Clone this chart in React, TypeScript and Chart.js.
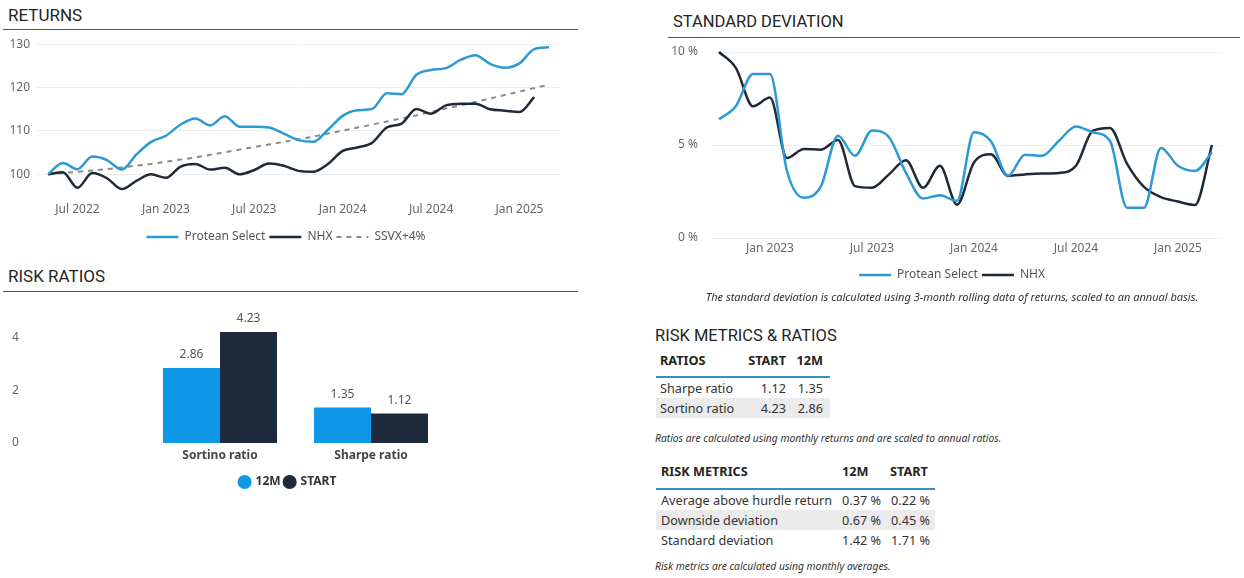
import React, { useEffect, useRef } from "react";
import { Chart, registerables } from "chart.js";

Chart.register(...registerables);

// ---------- RETURNS ----------
const returnMonths = [
  "Apr 2022", "May 2022", "Jun 2022", "Jul 2022", "Aug 2022", "Sep 2022", "Oct 2022", "Nov 2022", "Dec 2022",
  "Jan 2023", "Feb 2023", "Mar 2023", "Apr 2023", "May 2023", "Jun 2023", "Jul 2023", "Aug 2023", "Sep 2023",
  "Oct 2023", "Nov 2023", "Dec 2023", "Jan 2024", "Feb 2024", "Mar 2024", "Apr 2024", "May 2024", "Jun 2024",
  "Jul 2024", "Aug 2024", "Sep 2024", "Oct 2024", "Nov 2024", "Dec 2024", "Jan 2025", "Feb 2025",
];
const proteanReturns = [
  100, 102.6, 101.2, 104.1, 103.3, 101.1, 104.6, 107.5, 108.9, 111.5, 112.9, 111.3, 113.4, 111.0, 111.0, 110.8,
  109.4, 107.9, 107.5, 110.3, 113.5, 114.8, 115.1, 118.7, 118.5, 123.0, 124.1, 124.5, 126.4, 127.5, 125.5, 124.6,
  125.6, 128.9, 129.3,
];
const nhxReturns = [
  100, 100.5, 96.9, 100.3, 99.1, 96.6, 98.5, 100.0, 99.2, 101.8, 102.4, 101.1, 101.5, 100.0, 101.0, 102.5, 102.0,
  100.8, 100.6, 102.4, 105.4, 106.2, 107.3, 110.8, 111.7, 115.1, 114.0, 115.9, 116.3, 116.3, 115.0, 114.7, 114.4,
  117.8,
];
const ssvxReturns = [
  100, 100.3, 100.6, 100.9, 101.2, 101.6, 102.0, 102.4, 102.9, 103.4, 103.9, 104.5, 105.1, 105.7, 106.3, 106.9,
  107.5, 108.1, 108.7, 109.4, 110.1, 110.8, 111.5, 112.2, 112.9, 113.6, 114.4, 115.2, 115.9, 116.7, 117.5, 118.3,
  119.1, 119.9, 120.7,
];
const returnTickIdx = [2, 8, 14, 20, 26, 32];
const returnTickLabels = ["Jul 2022", "Jan 2023", "Jul 2023", "Jan 2024", "Jul 2024", "Jan 2025"];
const returnYTicks = [100, 110, 120, 130];

// ---------- STANDARD DEVIATION ----------
const sdMonths = [
  "Sep 2022", "Oct 2022", "Nov 2022", "Dec 2022", "Jan 2023", "Feb 2023", "Mar 2023", "Apr 2023", "May 2023",
  "Jun 2023", "Jul 2023", "Aug 2023", "Sep 2023", "Oct 2023", "Nov 2023", "Dec 2023", "Jan 2024", "Feb 2024",
  "Mar 2024", "Apr 2024", "May 2024", "Jun 2024", "Jul 2024", "Aug 2024", "Sep 2024", "Oct 2024", "Nov 2024",
  "Dec 2024", "Jan 2025", "Feb 2025",
];
const proteanSD = [
  6.38, 7.1, 8.82, 8.82, 3.6, 2.16, 2.79, 5.5, 4.42, 5.78, 5.42, 3.5, 2.12, 2.3, 2.0, 5.68, 5.2, 3.34, 4.48, 4.42,
  5.23, 6.0, 5.68, 5.23, 1.63, 1.63, 4.84, 3.88, 3.6, 4.6,
];
const nhxSD = [
  10.0, 9.13, 7.08, 7.55, 4.3, 4.78, 4.75, 5.27, 2.79, 2.7, 3.42, 4.18, 2.7, 3.88, 1.8, 4.06, 4.5, 3.34, 3.42, 3.47,
  3.5, 3.88, 5.77, 5.92, 4.0, 2.75, 2.2, 1.96, 1.78, 5.0,
];
const sdTickIdx = [3, 9, 15, 21, 27];
const sdTickLabels = ["Jan 2023", "Jul 2023", "Jan 2024", "Jul 2024", "Jan 2025"];
const sdYTicks = [0, 5, 10];

// ---------- RISK RATIOS ----------
const ratioCategories = ["Sortino ratio", "Sharpe ratio"];
const ratios12M = [2.86, 1.35];
const ratiosStart = [4.23, 1.12];
const ratioYTicks = [0, 2, 4];

// ---------- TABLES ----------
const ratioTableHead = ["RATIOS", "START", "12M"];
const ratioTableRows = [
  ["Sharpe ratio", "1.12", "1.35"],
  ["Sortino ratio", "4.23", "2.86"],
];
const metricTableHead = ["RISK METRICS", "12M", "START"];
const metricTableRows = [
  ["Average above hurdle return", "0.37 %", "0.22 %"],
  ["Downside deviation", "0.67 %", "0.45 %"],
  ["Standard deviation", "1.42 %", "1.71 %"],
];

const FONT = "'Noto Sans', 'Open Sans', sans-serif";
const TITLE_FONT = "Roboto, 'Noto Sans', sans-serif";
const BLUE = "#2a9ad4";
const NAVY = "#1f2a36";
const BAR_BLUE = "#0f97e8";
const BAR_NAVY = "#1e2b3c";

function ChartBox(props: { make: () => any; left: number; top: number; w: number; h: number }) {
  const ref = useRef<HTMLCanvasElement>(null);
  useEffect(() => {
    const chart = new Chart(ref.current as HTMLCanvasElement, props.make());
    return () => chart.destroy();
  }, []);
  return (
    <canvas
      ref={ref}
      width={props.w}
      height={props.h}
      style={{ position: "absolute", left: props.left, top: props.top, width: props.w, height: props.h }}
    />
  );
}

const toXY = (arr: number[]) => arr.map((v, i) => ({ x: i, y: v }));

const lineLegendLabels = (chart: any) =>
  (Chart.defaults as any).plugins.legend.labels.generateLabels(chart).map((it: any) => ({
    ...it,
    lineDash: chart.data.datasets[it.datasetIndex].borderDash || [],
  }));

// moves the (bottom) legend so that it is centred on a given canvas x
const legendShift = (cx: number) => ({
  id: "legendShift",
  afterLayout(chart: any) {
    const lg = chart.legend;
    if (!lg) return;
    const dx = cx - (lg.left + lg.right) / 2;
    lg.left += dx;
    lg.right += dx;
  },
});

// fixes a vertical axis width and stops its labels from adding padding above/below the plot
const fixYWidth = (w: number) => (axis: any) => {
  axis.width = w;
  axis.paddingTop = 0;
  axis.paddingBottom = 0;
};

function returnsConfig() {
  return {
    type: "line",
    data: {
      labels: returnMonths,
      datasets: [
        { label: "Protean Select", data: toXY(proteanReturns), borderColor: BLUE, backgroundColor: BLUE, borderWidth: 2.5, pointRadius: 0, cubicInterpolationMode: "monotone" },
        { label: "NHX", data: toXY(nhxReturns), borderColor: NAVY, backgroundColor: NAVY, borderWidth: 2.5, pointRadius: 0, cubicInterpolationMode: "monotone" },
        { label: "SSVX+4%", data: toXY(ssvxReturns), borderColor: "#8a8a8a", backgroundColor: "#8a8a8a", borderWidth: 2, borderDash: [5, 5], pointRadius: 0 },
      ],
    },
    plugins: [legendShift(286)],
    options: {
      animation: false,
      responsive: false,
      devicePixelRatio: 1,
      layout: { padding: { top: 10, right: 20, bottom: 1, left: 0 } },
      plugins: {
        tooltip: { enabled: false },
        legend: {
          position: "bottom",
          labels: {
            usePointStyle: true, pointStyle: "line", pointStyleWidth: 32, color: "#555",
            font: { family: FONT, size: 12 }, padding: 4, generateLabels: lineLegendLabels,
          },
        },
      },
      scales: {
        x: {
          type: "linear",
          min: -0.75,
          max: returnMonths.length - 0.25,
          grid: { display: false, drawTicks: false },
          border: { display: false },
          afterBuildTicks: (axis: any) => { axis.ticks = returnTickIdx.map((v) => ({ value: v })); },
          afterFit: (axis: any) => { axis.height = 31; },
          ticks: {
            autoSkip: false, maxRotation: 0, padding: 6, color: "#666", font: { family: FONT, size: 12 },
            callback: (v: number) => returnTickLabels[returnTickIdx.indexOf(v)] ?? "",
          },
        },
        y: {
          min: 95,
          max: 131,
          grid: { color: "#eeeeee", drawTicks: false },
          border: { display: false },
          afterBuildTicks: (axis: any) => { axis.ticks = returnYTicks.map((v) => ({ value: v })); },
          afterFit: fixYWidth(37),
          ticks: { padding: 7, color: "#666", font: { family: FONT, size: 12 } },
        },
      },
    },
  };
}

function sdConfig() {
  return {
    type: "line",
    data: {
      labels: sdMonths,
      datasets: [
        { label: "Protean Select", data: toXY(proteanSD), borderColor: BLUE, backgroundColor: BLUE, borderWidth: 2.5, pointRadius: 0, cubicInterpolationMode: "monotone", clip: 4 },
        { label: "NHX", data: toXY(nhxSD), borderColor: NAVY, backgroundColor: NAVY, borderWidth: 2.5, pointRadius: 0, cubicInterpolationMode: "monotone", clip: 4 },
      ],
    },
    plugins: [legendShift(312)],
    options: {
      animation: false,
      responsive: false,
      devicePixelRatio: 1,
      layout: { padding: { top: 12, right: 21, bottom: 1, left: 0 } },
      plugins: {
        tooltip: { enabled: false },
        legend: {
          position: "bottom",
          labels: {
            usePointStyle: true, pointStyle: "line", pointStyleWidth: 32, color: "#555",
            font: { family: FONT, size: 12 }, padding: 4, generateLabels: lineLegendLabels,
          },
        },
      },
      scales: {
        x: {
          type: "linear",
          min: -0.47,
          max: sdMonths.length - 0.35,
          grid: { display: false, drawTicks: false },
          border: { display: false },
          afterBuildTicks: (axis: any) => { axis.ticks = sdTickIdx.map((v) => ({ value: v })); },
          afterFit: (axis: any) => { axis.height = 27; },
          ticks: {
            autoSkip: false, maxRotation: 0, padding: 3, color: "#666", font: { family: FONT, size: 12 },
            callback: (v: number) => sdTickLabels[sdTickIdx.indexOf(v)] ?? "",
          },
        },
        y: {
          min: 0,
          max: 10,
          grid: { color: "#eeeeee", drawTicks: false },
          border: { display: false },
          afterBuildTicks: (axis: any) => { axis.ticks = sdYTicks.map((v) => ({ value: v })); },
          afterFit: fixYWidth(71),
          ticks: { padding: 13, color: "#666", font: { family: FONT, size: 12 }, callback: (v: number) => v + " %" },
        },
      },
    },
  };
}

const barValuePlugin = {
  id: "barValues",
  afterDatasetsDraw(chart: any) {
    const ctx = chart.ctx;
    ctx.save();
    ctx.font = `12px ${FONT}`;
    ctx.fillStyle = "#555";
    ctx.textAlign = "center";
    ctx.textBaseline = "middle";
    chart.data.datasets.forEach((ds: any, di: number) => {
      chart.getDatasetMeta(di).data.forEach((el: any, i: number) => {
        ctx.fillText(Number(ds.data[i]).toFixed(2), el.x, el.y - 13);
      });
    });
    ctx.restore();
  },
};

function ratiosConfig() {
  return {
    type: "bar",
    data: {
      labels: ratioCategories,
      datasets: [
        { label: "12M", data: ratios12M, backgroundColor: BAR_BLUE, borderWidth: 0, categoryPercentage: 0.755, barPercentage: 1 },
        { label: "START", data: ratiosStart, backgroundColor: BAR_NAVY, borderWidth: 0, categoryPercentage: 0.755, barPercentage: 1 },
      ],
    },
    plugins: [barValuePlugin, legendShift(288)],
    options: {
      animation: false,
      responsive: false,
      devicePixelRatio: 1,
      layout: { padding: { top: 22, right: 133.5, bottom: 1, left: 12 } },
      plugins: {
        tooltip: { enabled: false },
        legend: {
          position: "bottom",
          labels: { usePointStyle: true, pointStyle: "circle", boxWidth: 10, boxHeight: 10, color: "#333", font: { family: FONT, size: 12, weight: "bold" }, padding: 4 },
        },
      },
      scales: {
        x: {
          grid: { display: false, drawTicks: false },
          border: { display: false },
          afterFit: (axis: any) => { axis.height = 29; },
          ticks: { padding: 5, color: "#444", font: { family: FONT, size: 12, weight: "bold" } },
        },
        y: {
          min: 0,
          max: 4.8,
          grid: { display: false, drawTicks: false },
          border: { display: false },
          afterBuildTicks: (axis: any) => { axis.ticks = ratioYTicks.map((v) => ({ value: v })); },
          afterFit: fixYWidth(132.5),
          ticks: { crossAlign: "far", padding: 0, color: "#666", font: { family: FONT, size: 12 } },
        },
      },
    },
  };
}

const abs = (left: number, top: number, extra: any = {}) => ({ position: "absolute" as const, left, top, ...extra });

function Title(props: { text: string; left: number; cy: number; size?: number }) {
  const size = props.size ?? 16.5;
  return (
    <div style={abs(props.left, props.cy - 11, { fontFamily: TITLE_FONT, fontSize: size, lineHeight: "22px", color: "#252423", whiteSpace: "nowrap" })}>
      {props.text}
    </div>
  );
}

function Rule(props: { left: number; right: number; y: number }) {
  return <div style={abs(props.left, props.y, { width: props.right - props.left, height: 1, background: "#555" })} />;
}

function Caption(props: { text: string; left?: number; cy: number; center?: number; size?: number }) {
  const style: any = { fontFamily: FONT, fontSize: props.size ?? 10.3, fontStyle: "italic", lineHeight: "14px", color: "#333", whiteSpace: "nowrap" };
  if (props.center !== undefined) {
    return <div style={abs(props.center - 300, props.cy - 7, { ...style, width: 600, textAlign: "center" })}>{props.text}</div>;
  }
  return <div style={abs(props.left as number, props.cy - 7, style)}>{props.text}</div>;
}

function App() {
  const cell = { fontFamily: FONT, fontSize: 12.7, lineHeight: "20px", color: "#333", whiteSpace: "nowrap" as const };
  const head = { ...cell, fontWeight: 700, color: "#252423" };
  return (
    <div style={{ position: "absolute", left: 0, top: 0, width: 1244, height: 578, background: "#fff", overflow: "hidden" }}>
      <Title text="RETURNS" left={8} cy={15} size={17} />
      <Rule left={3} right={578} y={29} />
      <ChartBox make={returnsConfig} left={0} top={30} w={580} h={224} />

      <Title text="STANDARD DEVIATION" left={673} cy={22} />
      <Rule left={668} right={1240} y={37} />
      <ChartBox make={sdConfig} left={640} top={40} w={604} h={252} />
      <Caption text="The standard deviation is calculated using 3-month rolling data of returns, scaled to an annual basis." center={952} cy={297} size={11} />

      <Title text="RISK RATIOS" left={8} cy={276} size={17} />
      <Rule left={3} right={578} y={291} />
      <ChartBox make={ratiosConfig} left={0} top={295} w={580} h={204} />

      <Title text="RISK METRICS & RATIOS" left={655} cy={336} />
      {/* Ratios table */}
      <div style={abs(660, 350, head)}>{ratioTableHead[0]}</div>
      <div style={abs(700, 350, { ...head, width: 86, textAlign: "right" })}>{ratioTableHead[1]}</div>
      <div style={abs(783, 350, { ...head, width: 40, textAlign: "right" })}>{ratioTableHead[2]}</div>
      <div style={abs(656, 376, { width: 174, height: 2, background: "#3a8fc0" })} />
      {ratioTableRows.map((r, i) => (
        <React.Fragment key={r[0]}>
          <div style={abs(656, 378 + i * 20, { width: 174, height: 20, background: i % 2 === 1 ? "#ebebeb" : "transparent" })} />
          <div style={abs(660, 378 + i * 20, cell)}>{r[0]}</div>
          <div style={abs(700, 378 + i * 20, { ...cell, width: 86, textAlign: "right" })}>{r[1]}</div>
          <div style={abs(783, 378 + i * 20, { ...cell, width: 40, textAlign: "right" })}>{r[2]}</div>
        </React.Fragment>
      ))}
      <Caption text="Ratios are calculated using monthly returns and are scaled to annual ratios." left={655} cy={438} />

      {/* Risk metrics table */}
      <div style={abs(661, 461, head)}>{metricTableHead[0]}</div>
      <div style={abs(842, 461, head)}>{metricTableHead[1]}</div>
      <div style={abs(890, 461, head)}>{metricTableHead[2]}</div>
      <div style={abs(656, 488, { width: 279, height: 2, background: "#3a8fc0" })} />
      {metricTableRows.map((r, i) => (
        <React.Fragment key={r[0]}>
          <div style={abs(656, 490 + i * 20, { width: 279, height: 20, background: i % 2 === 1 ? "#ebebeb" : "transparent" })} />
          <div style={abs(661, 490 + i * 20, cell)}>{r[0]}</div>
          <div style={abs(842, 490 + i * 20, cell)}>{r[1]}</div>
          <div style={abs(891, 490 + i * 20, cell)}>{r[2]}</div>
        </React.Fragment>
      ))}
      <Caption text="Risk metrics are calculated using monthly averages." left={655} cy={566} />
    </div>
  );
}

export default App;
